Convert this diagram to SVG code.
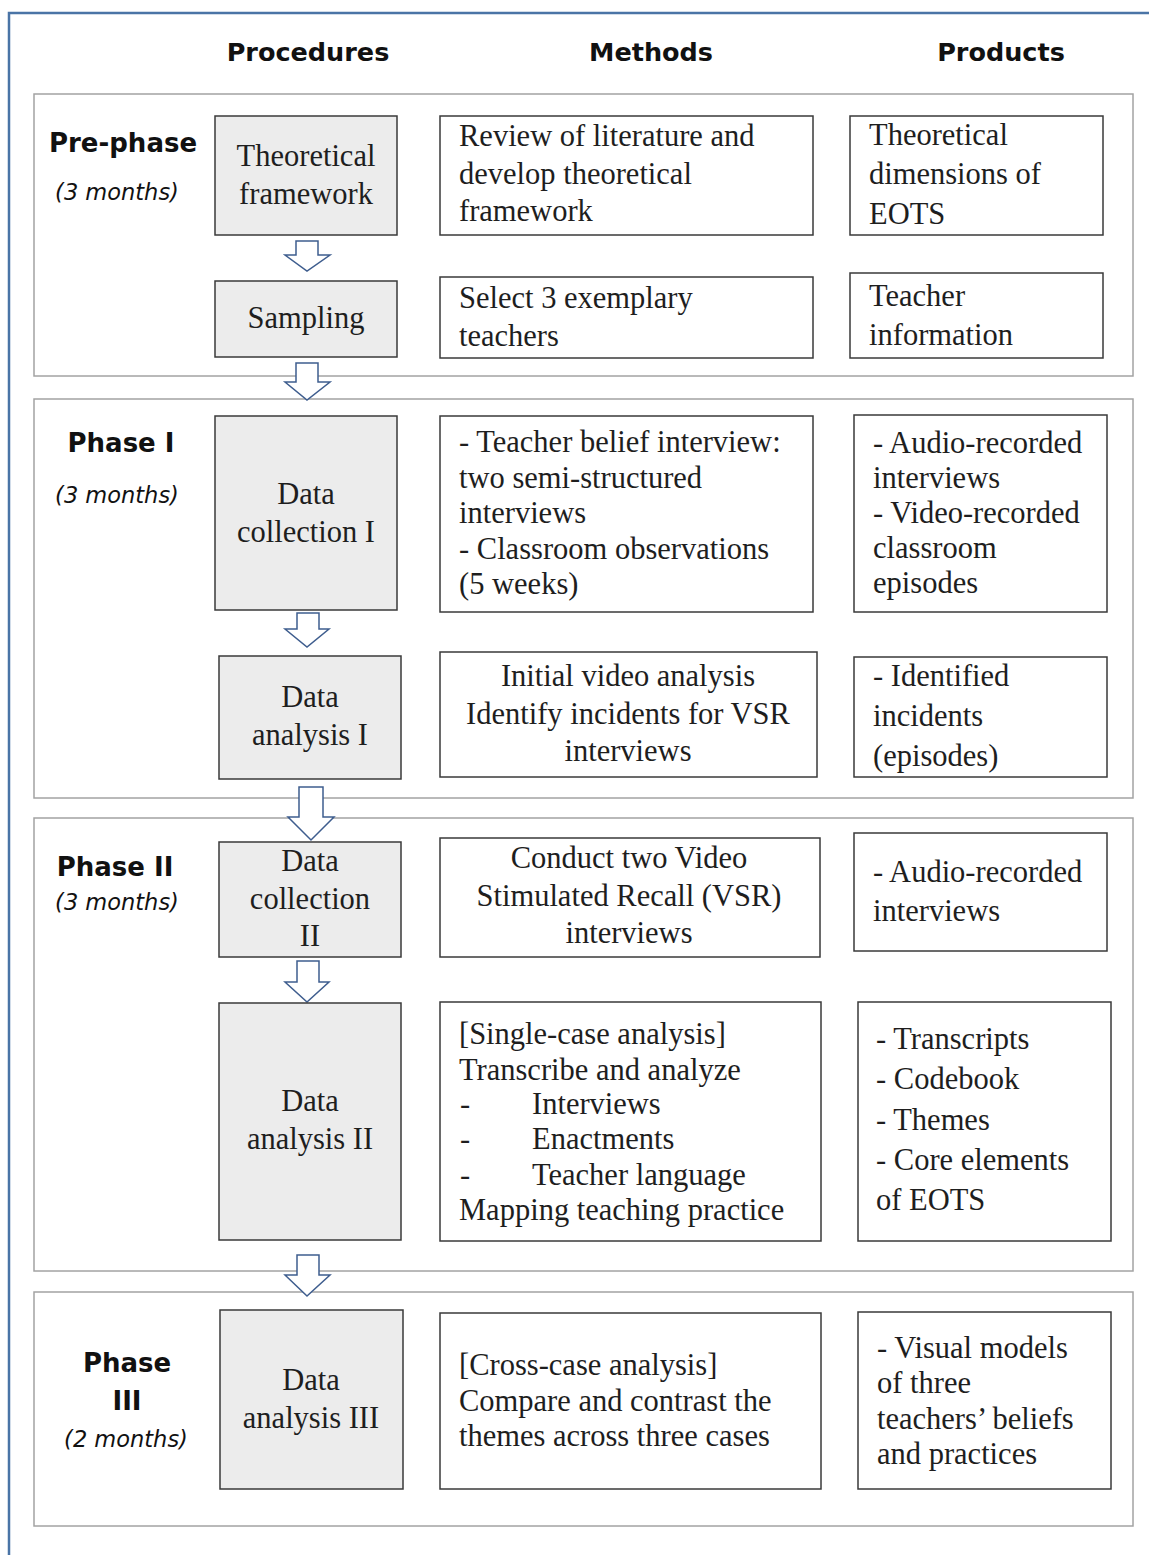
<svg xmlns="http://www.w3.org/2000/svg" width="1149" height="1555" viewBox="0 0 1149 1555">
<style>
.frame{fill:none;stroke:#4a74a6;stroke-width:2.5}
.panel{fill:none;stroke:#a3a3a3;stroke-width:1.5}
.proc{fill:#ececec;stroke:#3a3a3a;stroke-width:1.5}
.box{fill:#ffffff;stroke:#3a3a3a;stroke-width:1.5}
.arrow{fill:#ffffff;stroke:#3e5d8e;stroke-width:1.5;stroke-linejoin:miter}
.hdr{font-family:"DejaVu Sans",Verdana,sans-serif;font-weight:bold;font-size:25.5px;fill:#111;text-anchor:middle}
.ph{font-family:"DejaVu Sans",Verdana,sans-serif;font-weight:bold;font-size:26px;fill:#111;text-anchor:middle}
.mo{font-family:"DejaVu Sans",Verdana,sans-serif;font-style:italic;font-size:22.5px;fill:#111;text-anchor:middle}
.t{font-family:"Liberation Serif","Times New Roman",serif;font-size:30.5px;fill:#1e1e1e}
.c{text-anchor:middle}
</style>
<g id="frame">
<path class="frame" d="M9,1555 V13 H1149"/>
</g>
<g id="headers">
<text class="hdr" x="308" y="61">Procedures</text>
<text class="hdr" x="651" y="61">Methods</text>
<text class="hdr" x="1001" y="61">Products</text>
</g>
<g id="panels">
<rect id="panel-pre" class="panel" x="34" y="94" width="1099" height="282"/>
<rect id="panel-1" class="panel" x="34" y="399" width="1099" height="399"/>
<rect id="panel-2" class="panel" x="34" y="818" width="1099" height="453"/>
<rect id="panel-3" class="panel" x="34" y="1292" width="1099" height="234"/>
</g>
<g id="phase-labels">
<text class="ph" x="123" y="152">Pre-phase</text>
<text class="mo" x="117" y="200">(3 months)</text>
<text class="ph" x="121" y="452">Phase I</text>
<text class="mo" x="117" y="503">(3 months)</text>
<text class="ph" x="115" y="876">Phase II</text>
<text class="mo" x="117" y="910">(3 months)</text>
<text class="ph" x="127" y="1372">Phase</text>
<text class="ph" x="127" y="1410">III</text>
<text class="mo" x="126" y="1447">(2 months)</text>
</g>
<g id="connectors">
<path class="arrow" d="M296,241 H318 V255 H330 L307,271 L285,255 H296 Z"/>
<path class="arrow" d="M296,363 H318 V382 H330 L307,400 L285,382 H296 Z"/>
<path class="arrow" d="M297,613 H319 V629 H329 L307,647 L285,629 H297 Z"/>
<path class="arrow" d="M299,787 H323 V817 H334 L311,840 L288,817 H299 Z"/>
<path class="arrow" d="M297,961 H319 V982 H329 L307,1002 L285,982 H297 Z"/>
<path class="arrow" d="M297,1255 H319 V1275 H330 L307,1296 L285,1275 H297 Z"/>
</g>
<g id="proc-theoretical">
<rect class="proc" x="215" y="116" width="182" height="119"/>
<text class="t c" x="306" y="166">Theoretical</text>
<text class="t c" x="306" y="204">framework</text>
</g>
<g id="proc-sampling">
<rect class="proc" x="215" y="281" width="182" height="76"/>
<text class="t c" x="306" y="328">Sampling</text>
</g>
<g id="proc-dc1">
<rect class="proc" x="215" y="416" width="182" height="194"/>
<text class="t c" x="306" y="504">Data</text>
<text class="t c" x="306" y="542">collection I</text>
</g>
<g id="proc-da1">
<rect class="proc" x="219" y="656" width="182" height="123"/>
<text class="t c" x="310" y="707">Data</text>
<text class="t c" x="310" y="745">analysis I</text>
</g>
<g id="proc-dc2">
<rect class="proc" x="219" y="842" width="182" height="115"/>
<text class="t c" x="310" y="871">Data</text>
<text class="t c" x="310" y="909">collection</text>
<text class="t c" x="310" y="946">II</text>
</g>
<g id="proc-da2">
<rect class="proc" x="219" y="1003" width="182" height="237"/>
<text class="t c" x="310" y="1111">Data</text>
<text class="t c" x="310" y="1149">analysis II</text>
</g>
<g id="proc-da3">
<rect class="proc" x="220" y="1310" width="183" height="179"/>
<text class="t c" x="311" y="1390">Data</text>
<text class="t c" x="311" y="1428">analysis III</text>
</g>
<g id="method-1">
<rect class="box" x="440" y="116" width="373" height="119"/>
<text class="t" x="459" y="146">Review of literature and</text>
<text class="t" x="459" y="184">develop theoretical</text>
<text class="t" x="459" y="221">framework</text>
</g>
<g id="method-2">
<rect class="box" x="440" y="277" width="373" height="81"/>
<text class="t" x="459" y="308">Select 3 exemplary</text>
<text class="t" x="459" y="346">teachers</text>
</g>
<g id="method-3">
<rect class="box" x="440" y="416" width="373" height="196"/>
<text class="t" x="459" y="452">- Teacher belief interview:</text>
<text class="t" x="459" y="488">two semi-structured</text>
<text class="t" x="459" y="523">interviews</text>
<text class="t" x="459" y="559">- Classroom observations</text>
<text class="t" x="459" y="594">(5 weeks)</text>
</g>
<g id="method-4">
<rect class="box" x="440" y="652" width="377" height="125"/>
<text class="t c" x="628" y="686">Initial video analysis</text>
<text class="t c" x="628" y="724">Identify incidents for VSR</text>
<text class="t c" x="628" y="761">interviews</text>
</g>
<g id="method-5">
<rect class="box" x="440" y="838" width="380" height="119"/>
<text class="t c" x="629" y="868">Conduct two Video</text>
<text class="t c" x="629" y="906">Stimulated Recall (VSR)</text>
<text class="t c" x="629" y="943">interviews</text>
</g>
<g id="method-6">
<rect class="box" x="440" y="1002" width="381" height="239"/>
<text class="t" x="459" y="1044">[Single-case analysis]</text>
<text class="t" x="459" y="1080">Transcribe and analyze</text>
<text class="t" x="460" y="1114">-</text>
<text class="t" x="532" y="1114">Interviews</text>
<text class="t" x="460" y="1149">-</text>
<text class="t" x="532" y="1149">Enactments</text>
<text class="t" x="460" y="1185">-</text>
<text class="t" x="532" y="1185">Teacher language</text>
<text class="t" x="459" y="1220">Mapping teaching practice</text>
</g>
<g id="method-7">
<rect class="box" x="440" y="1313" width="381" height="176"/>
<text class="t" x="459" y="1375">[Cross-case analysis]</text>
<text class="t" x="459" y="1411">Compare and contrast the</text>
<text class="t" x="459" y="1446">themes across three cases</text>
</g>
<g id="product-1">
<rect class="box" x="850" y="116" width="253" height="119"/>
<text class="t" x="869" y="145">Theoretical</text>
<text class="t" x="869" y="184">dimensions of</text>
<text class="t" x="869" y="224">EOTS</text>
</g>
<g id="product-2">
<rect class="box" x="850" y="273" width="253" height="85"/>
<text class="t" x="869" y="306">Teacher</text>
<text class="t" x="869" y="345">information</text>
</g>
<g id="product-3">
<rect class="box" x="854" y="415" width="253" height="197"/>
<text class="t" x="873" y="453">- Audio-recorded</text>
<text class="t" x="873" y="488">interviews</text>
<text class="t" x="873" y="523">- Video-recorded</text>
<text class="t" x="873" y="558">classroom</text>
<text class="t" x="873" y="593">episodes</text>
</g>
<g id="product-4">
<rect class="box" x="854" y="657" width="253" height="120"/>
<text class="t" x="873" y="686">- Identified</text>
<text class="t" x="873" y="726">incidents</text>
<text class="t" x="873" y="766">(episodes)</text>
</g>
<g id="product-5">
<rect class="box" x="854" y="833" width="253" height="118"/>
<text class="t" x="873" y="882">- Audio-recorded</text>
<text class="t" x="873" y="921">interviews</text>
</g>
<g id="product-6">
<rect class="box" x="858" y="1002" width="253" height="239"/>
<text class="t" x="876" y="1049">- Transcripts</text>
<text class="t" x="876" y="1089">- Codebook</text>
<text class="t" x="876" y="1130">- Themes</text>
<text class="t" x="876" y="1170">- Core elements</text>
<text class="t" x="876" y="1210">of EOTS</text>
</g>
<g id="product-7">
<rect class="box" x="858" y="1312" width="253" height="177"/>
<text class="t" x="877" y="1358">- Visual models</text>
<text class="t" x="877" y="1393">of three</text>
<text class="t" x="877" y="1429">teachers’ beliefs</text>
<text class="t" x="877" y="1464">and practices</text>
</g>
</svg>
